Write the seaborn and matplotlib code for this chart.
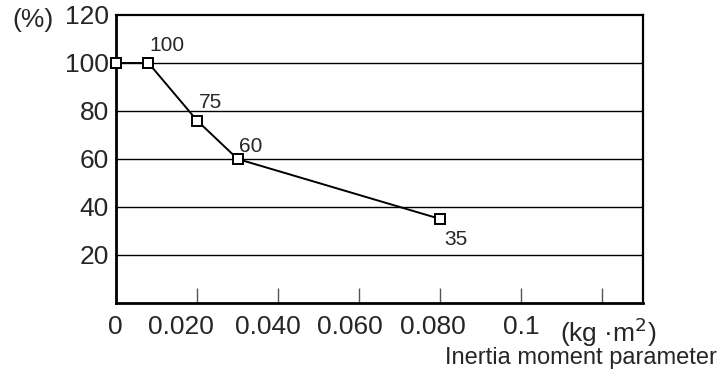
import pandas as pd
import matplotlib.pyplot as plt
import matplotlib.transforms as mtransforms
import seaborn as sns

# Datos
inercia = [0, 0.008, 0.020, 0.030, 0.080]
porcentaje = [100, 100, 76, 60, 35]
etiquetas = ['', '100', '75', '60', '35']
xticks = [0, 0.02, 0.04, 0.06, 0.08, 0.1, 0.12]
xtick_labels = ['0', '0.020', '0.040', '0.060', '0.080', '0.1', '(kg ·m$^2$)']
yticks = [20, 40, 60, 80, 100, 120]

df = pd.DataFrame({'inercia': inercia, 'porcentaje': porcentaje})

sns.set_style('white')
plt.rcParams['font.family'] = ['Liberation Sans', 'DejaVu Sans']

fig = plt.figure(figsize=(7.22, 3.73), dpi=100)
ax = fig.add_axes([0.1607, 0.1877, 0.7299, 0.7721])

ax.set_xlim(0, 0.13)
ax.set_ylim(0, 120)

# Líneas horizontales de la rejilla
for y in yticks[:-1]:
    ax.axhline(y, color='black', lw=1, zorder=1)

sns.lineplot(
    x='inercia', y='porcentaje', data=df, ax=ax, color='black', lw=1.4,
    marker='s', markersize=6.5, markerfacecolor='white', markeredgecolor='black',
    markeredgewidth=1.4, clip_on=False, zorder=3
)

# Etiquetas de los puntos (desplazamiento en píxeles)
offsets = [(0, 0), (1, 17), (2, 18), (1, 12), (4, -21)]
for x, y, t, off in zip(inercia, porcentaje, etiquetas, offsets):
    if t:
        ax.annotate(t, (x, y), xytext=off, textcoords='offset pixels',
                    fontsize=15, ha='left', va='center')

ax.set_xticks(xticks)
ax.set_xticklabels(xtick_labels, fontsize=19)
ax.set_yticks(yticks)
ax.set_yticklabels([str(v) for v in yticks], fontsize=19)
ax.tick_params(axis='x', bottom=True, direction='in', length=11, width=1,
               color='#555555', pad=9)
ax.tick_params(axis='y', left=False, length=0, pad=5)
ax.set_xlabel('')
ax.set_ylabel('')

# pequeño desplazamiento horizontal de las etiquetas del eje x, como en el original
desplaz = [-1, -16, -10, -9, -7, 0, 6]
for lab, dx in zip(ax.get_xticklabels(), desplaz):
    lab.set_transform(lab.get_transform() +
                      mtransforms.ScaledTranslation(dx / 100, 0, fig.dpi_scale_trans))

for side in ['left', 'bottom']:
    ax.spines[side].set_linewidth(2)
for side in ['top', 'right']:
    ax.spines[side].set_linewidth(1.6)
for s in ax.spines.values():
    s.set_color('black')

fig.text(12 / 722, 1 - 20 / 373, '(%)', fontsize=19, ha='left', va='center')
fig.text(717 / 722, 1 - 358 / 373, 'Inertia moment parameter', fontsize=17, ha='right', va='center')

plt.savefig('out.png', dpi=100)
